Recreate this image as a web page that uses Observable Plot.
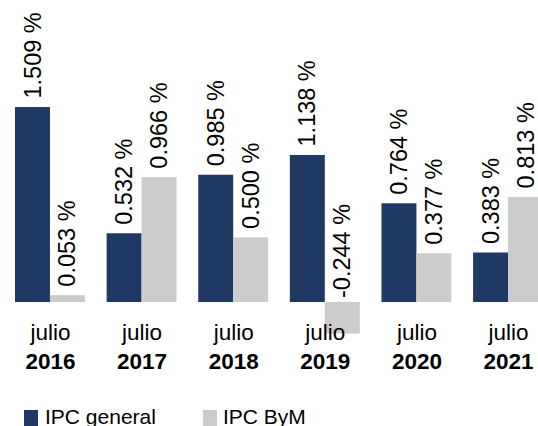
<!DOCTYPE html>
<html>
<head>
<meta charset="utf-8">
<script src="https://cdn.jsdelivr.net/npm/d3@7"></script>
<script src="https://cdn.jsdelivr.net/npm/@observablehq/plot@0.6"></script>
<style>
  html, body { margin: 0; padding: 0; background: #fff; }
  body { position: relative; width: 538px; height: 426px; overflow: hidden; font-family: "Liberation Sans", Arial, sans-serif; }
  #chart svg { display: block; }
  .legend { position: absolute; top: 405.5px; left: 0; width: 538px; height: 21px; font-size: 21px; line-height: 21px; color: #000; }
  .item { position: absolute; top: 0; white-space: nowrap; }
  .sw { position: absolute; top: 4px; width: 14px; height: 18px; }
  .lab { position: absolute; top: 0; }
</style>
</head>
<body>
<div id="chart"></div>
<div class="legend" id="legend"></div>
<script>
const years = ["2016", "2017", "2018", "2019", "2020", "2021"];
const month = "julio";
const series = ["IPC general", "IPC ByM"];
const ipcGeneral = [1.509, 0.532, 0.985, 1.138, 0.764, 0.383];
const ipcByM = [0.053, 0.966, 0.500, -0.244, 0.377, 0.813];
const colors = ["#1F3864", "#CCCCCC"];

const data = years.flatMap((y, i) => [
  {year: y, serie: series[0], value: ipcGeneral[i]},
  {year: y, serie: series[1], value: ipcByM[i]}
]);
const fmt = d => d.value.toFixed(3) + " %";
const pos = data.filter(d => d.value >= 0);
const neg = data.filter(d => d.value < 0);

const zeroY = 302, unit = 129.2;
const chart = Plot.plot({
  width: 538,
  height: 398,
  marginLeft: 0,
  marginRight: 0,
  marginTop: 0,
  marginBottom: 88,
  style: {fontFamily: "'Liberation Sans', Arial, sans-serif", background: "#fff"},
  fx: {domain: years, range: [15, 543], paddingInner: 0.237, paddingOuter: 0, round: false, axis: null, label: null},
  x: {domain: series, padding: 0, round: false, axis: null},
  y: {domain: [-0.6, 2.3], range: [zeroY + 0.6 * unit, zeroY - 2.3 * unit], axis: null},
  color: {domain: series, range: colors},
  marks: [
    Plot.barY(data, {fx: "year", x: "serie", y: "value", fill: "serie", inset: 0}),
    Plot.text(years, {fx: d => d, text: () => month, frameAnchor: "bottom", lineAnchor: "middle", dy: 22.1, fontSize: 22.5, fill: "#000"}),
    Plot.text(years, {fx: d => d, text: d => d, frameAnchor: "bottom", lineAnchor: "middle", dy: 51.1, fontSize: 22.5, fontWeight: "bold", fill: "#000"}),
    Plot.text(pos, {fx: "year", x: "serie", y: "value", text: fmt, rotate: -90, textAnchor: "start", lineAnchor: "middle", dy: -9, fontSize: 23.5, fill: "#000"}),
    Plot.text(neg, {fx: "year", x: "serie", y: d => Math.max(0, d.value), text: fmt, rotate: -90, textAnchor: "start", lineAnchor: "middle", dy: -4.5, fontSize: 23.5, fill: "#000"})
  ]
});
document.getElementById("chart").appendChild(chart);

const legend = document.getElementById("legend");
const legendLefts = [24, 203];
const labelOffsets = [21, 20];
series.forEach((s, i) => {
  const item = document.createElement("div");
  item.className = "item";
  item.style.left = legendLefts[i] + "px";
  const sw = document.createElement("span");
  sw.className = "sw";
  sw.style.background = colors[i];
  sw.style.left = "0px";
  const lab = document.createElement("span");
  lab.className = "lab";
  lab.style.left = labelOffsets[i] + "px";
  lab.textContent = s;
  item.appendChild(sw);
  item.appendChild(lab);
  legend.appendChild(item);
});
</script>
</body>
</html>
